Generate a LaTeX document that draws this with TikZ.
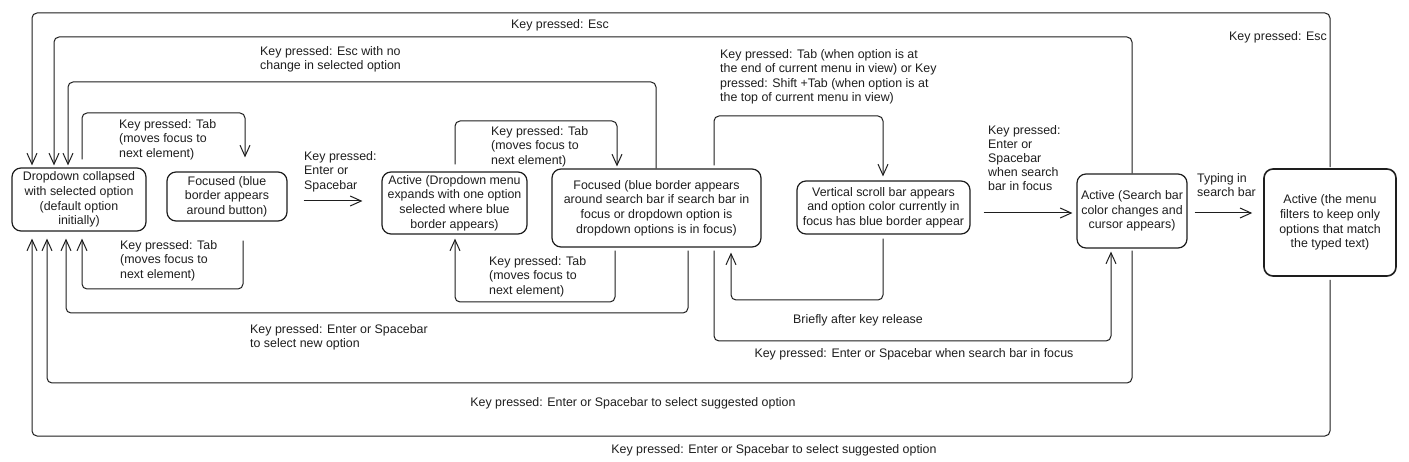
\documentclass[tikz,border=0pt]{standalone}
\usepackage{fontspec}
\setmainfont{Liberation Sans}
\usetikzlibrary{arrows.meta,calc}
\definecolor{ink}{HTML}{1E1E1E}
\newcommand\lblfont{\fontsize{12.4pt}{14.6pt}\selectfont}
\begin{document}
\begin{tikzpicture}[x=1pt,y=-1pt,
  box/.style={draw=ink, line width=1.2pt, rounded corners=9pt, align=center, inner sep=2pt, font=\lblfont, text=ink},
  conn/.style={draw=ink, line width=1pt, rounded corners=5pt, -{Straight Barb[length=11pt,width=10pt,line width=1pt]}},
  lbl/.style={font=\lblfont, align=left, inner sep=0pt, anchor=north west, text=ink},
  clbl/.style={font=\lblfont, inner sep=0pt, text=ink}]
\useasboundingbox[fill=white] (0,0) rectangle (1409,462);

% states
\node[box, minimum width=134pt, minimum height=63pt] (n1) at (79,199.5) {Dropdown collapsed\\with selected option\\(default option\\initially)};
\node[box, minimum width=120pt, minimum height=49pt] (n2) at (227,196.5) {Focused (blue\\border appears\\around button)};
\node[box, minimum width=145pt, minimum height=62pt] (n3) at (454.5,203) {Active (Dropdown menu\\expands with one option\\selected where blue\\border appears)};
\node[box, minimum width=209pt, minimum height=78pt] (n4) at (656.5,208) {Focused (blue border appears\\around search bar if search bar in\\focus or dropdown option is\\dropdown options is in focus)};
\node[box, minimum width=173pt, minimum height=53pt] (n5) at (883.5,207.5) {Vertical scroll bar appears\\and option color currently in\\focus has blue border appear};
\node[box, minimum width=110pt, minimum height=74pt] (n6) at (1132,211) {Active (Search bar\\color changes and\\cursor appears)};
\node[box, line width=1.6pt, minimum width=132pt, minimum height=107pt] (n7) at (1330,222.5) {Active (the menu\\filters to keep only\\options that match\\the typed text)};

% connectors into n1 (top)
\draw[conn, shorten <=1pt, shorten >=2pt] (n7.north) |- (32,13) -- (32,0 |- n1.north);
\draw[conn, shorten >=2pt] (n6.north) |- (54,37) -- (54,0 |- n1.north);
\draw[conn, shorten >=2pt] (656,0 |- n4.north) |- (68,82) -- (68,0 |- n1.north);
% n1 -> n2
\draw[conn, shorten <=8pt, shorten >=14pt] (82,0 |- n1.north) |- (245,113) -- (245,0 |- n2.north);
% n2 -> n1
\draw[conn, shorten <=19pt, shorten >=7pt] (243,0 |- n2.south) |- (82,289) -- (82,0 |- n1.south);
% connectors into n1 (bottom)
\draw[conn, shorten <=3pt, shorten >=7pt] (688,0 |- n4.south) |- (66,313) -- (66,0 |- n1.south);
\draw[conn, shorten <=2pt, shorten >=7pt] (n6.south) |- (47,383) -- (47,0 |- n1.south);
\draw[conn, shorten <=3pt, shorten >=7pt] (n7.south) |- (32,436) -- (32,0 |- n1.south);
% n2 -> n3
\draw[conn, shorten <=16pt, shorten >=19pt] (n2.east |- 0,201) -- (n3.west |- 0,201);
% n3 <-> n4
\draw[conn, shorten <=7pt, shorten >=2pt] (455,0 |- n3.north) |- (617,121) -- (617,0 |- n4.north);
\draw[conn, shorten <=3pt, shorten >=4pt] (615,0 |- n4.south) |- (455,302) -- (455,0 |- n3.south);
% n4 <-> n5
\draw[conn, shorten <=3pt, shorten >=4pt] (714,0 |- n4.north) |- (883,116) -- (883,0 |- n5.north);
\draw[conn, shorten <=4pt, shorten >=5pt] (883,0 |- n5.south) |- (731,300) -- (731,0 |- n4.south);
% n4 -> n6
\draw[conn, shorten <=3pt, shorten >=3pt] (714,0 |- n4.south) |- (1111,341) -- (1111,0 |- n6.south);
% n5 -> n6, n6 -> n7
\draw[conn, shorten <=13pt, shorten >=4pt] (n5.east |- 0,213) -- (n6.west |- 0,213);
\draw[conn, shorten <=7pt, shorten >=11pt] (n6.east |- 0,213) -- (n7.west |- 0,213);

% labels
\node[clbl] (lEscOuter) at (1278,37) {Key pressed: Esc};
\node[clbl] (lEsc) at (560,25) {Key pressed: Esc};
\node[lbl] (lEscNo) at (260,46) {Key pressed: Esc with no\\change in selected option};
\node[lbl] (lTab1) at (119,119) {Key pressed: Tab\\(moves focus to\\next element)};
\node[lbl] (lTab2) at (120,240) {Key pressed: Tab\\(moves focus to\\next element)};
\node[lbl] (lEnter1) at (304,151) {Key pressed:\\Enter or\\Spacebar};
\node[lbl] (lNew) at (250,324) {Key pressed: Enter or Spacebar\\to select new option};
\node[clbl] (lSug1) at (633,403) {Key pressed: Enter or Spacebar to select suggested option};
\node[clbl] (lSug2) at (774,450) {Key pressed: Enter or Spacebar to select suggested option};
\node[lbl] (lTab3) at (491,126) {Key pressed: Tab\\(moves focus to\\next element)};
\node[lbl] (lTab4) at (489,256) {Key pressed: Tab\\(moves focus to\\next element)};
\node[lbl] (lScroll) at (720,49) {Key pressed: Tab (when option is at\\the end of current menu in view) or Key\\pressed: Shift +Tab (when option is at\\the top of current menu in view)};
\node[clbl] (lBrief) at (858,320) {Briefly after key release};
\node[clbl] (lSearch) at (914,354) {Key pressed: Enter or Spacebar when search bar in focus};
\node[lbl, font=\fontsize{12.4pt}{14pt}\selectfont] (lEnter2) at (988,125) {Key pressed:\\Enter or\\Spacebar\\when search\\bar in focus};
\node[lbl] (lTyping) at (1197,173) {Typing in\\search bar};
\end{tikzpicture}
\end{document}
